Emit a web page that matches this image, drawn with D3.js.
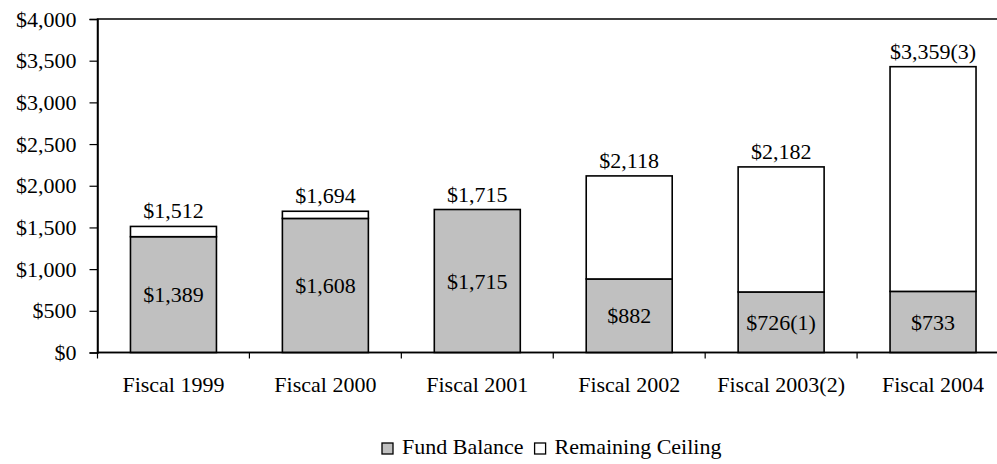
<!DOCTYPE html>
<html lang="en">

<head>
    <meta charset="UTF-8">
    <title>Fund Balance and Remaining Ceiling</title>
    <script src="https://d3js.org/d3.v7.min.js"></script>
    <style>
        body,
        html {
            margin: 0;
            background: #fff;
            overflow: hidden;
        }

        svg text {
            font-family: "Liberation Serif", "Times New Roman", serif;
            font-size: 22px;
            fill: #000;
        }
    </style>
</head>

<body>
    <div id="chart"></div>
    <script>
        // chart data
        var categories = ["Fiscal 1999", "Fiscal 2000", "Fiscal 2001", "Fiscal 2002", "Fiscal 2003(2)", "Fiscal 2004"];
        var fundBalance = [1389, 1608, 1715, 882, 726, 733];
        var remainingCeiling = [123, 86, 0, 1236, 1500, 2695];
        var fundLabels = ["$1,389", "$1,608", "$1,715", "$882", "$726(1)", "$733"];
        var totalLabels = ["$1,512", "$1,694", "$1,715", "$2,118", "$2,182", "$3,359(3)"];
        var yTicks = [0, 500, 1000, 1500, 2000, 2500, 3000, 3500, 4000];
        var seriesNames = ["Fund Balance", "Remaining Ceiling"];
        var seriesColors = ["#c0c0c0", "#ffffff"];

        var W = 997, H = 464;
        var plotL = 97.5, plotR = 1009, plotT = 19, plotB = 352.5;

        var svg = d3.select("#chart").append("svg")
            .attr("width", W)
            .attr("height", H);

        var x = d3.scaleBand()
            .domain(categories)
            .range([plotL, plotR])
            .paddingInner(0.434)
            .paddingOuter(0.217);

        var y = d3.scaleLinear()
            .domain([0, 4000])
            .range([plotB, plotT]);

        // plot frame
        svg.append("rect")
            .attr("x", plotL).attr("y", plotT)
            .attr("width", plotR - plotL).attr("height", plotB - plotT)
            .attr("fill", "none")
            .attr("stroke", "#000")
            .attr("stroke-width", 1.5);

        // stacked data
        var rows = categories.map(function (c, i) {
            return { cat: c, fund: fundBalance[i], rem: remainingCeiling[i] };
        });

        var g = svg.append("g");

        // fund balance (gray)
        g.selectAll(".fund").data(rows).enter().append("rect")
            .attr("x", function (d) { return x(d.cat); })
            .attr("y", function (d) { return y(d.fund); })
            .attr("width", x.bandwidth())
            .attr("height", function (d) { return y(0) - y(d.fund); })
            .attr("fill", seriesColors[0])
            .attr("stroke", "#000")
            .attr("stroke-width", 1.6);

        // remaining ceiling (white)
        g.selectAll(".rem").data(rows).enter().append("rect")
            .attr("x", function (d) { return x(d.cat); })
            .attr("y", function (d) { return y(d.fund + d.rem); })
            .attr("width", x.bandwidth())
            .attr("height", function (d) { return y(d.fund) - y(d.fund + d.rem); })
            .attr("fill", seriesColors[1])
            .attr("stroke", "#000")
            .attr("stroke-width", 1.6);

        // labels inside gray segment
        g.selectAll(".flab").data(rows).enter().append("text")
            .attr("x", function (d) { return x(d.cat) + x.bandwidth() / 2; })
            .attr("y", function (d) { return (y(0) + y(d.fund)) / 2; })
            .attr("dy", "0.35em")
            .attr("text-anchor", "middle")
            .text(function (d, i) { return fundLabels[i]; });

        // total labels above bars
        g.selectAll(".tlab").data(rows).enter().append("text")
            .attr("x", function (d) { return x(d.cat) + x.bandwidth() / 2; })
            .attr("y", function (d) { return y(d.fund + d.rem) - 8; })
            .attr("text-anchor", "middle")
            .text(function (d, i) { return totalLabels[i]; });

        // y axis
        var yAxis = svg.append("g")
            .attr("transform", "translate(" + plotL + ",0)")
            .call(d3.axisLeft(y).tickValues(yTicks).tickFormat(d3.format("$,")).tickSize(8).tickPadding(13));
        yAxis.select(".domain").attr("stroke-width", 1.5);
        yAxis.selectAll(".tick line").attr("stroke-width", 1.2);
        yAxis.selectAll("text").attr("font-size", 22).attr("font-family", "Liberation Serif");

        // x axis (ticks between categories)
        var xAxis = svg.append("g")
            .attr("transform", "translate(0," + plotB + ")");
        xAxis.append("line")
            .attr("x1", plotL).attr("x2", plotR)
            .attr("stroke", "#000").attr("stroke-width", 1.5);
        var bounds = categories.map(function (c) { return x(c) - x.step() * x.paddingInner() / 2; });
        bounds.push(plotR);
        xAxis.selectAll(".xt").data(bounds).enter().append("line")
            .attr("x1", function (d) { return d; })
            .attr("x2", function (d) { return d; })
            .attr("y1", 0).attr("y2", 6)
            .attr("stroke", "#000").attr("stroke-width", 1.2);
        xAxis.selectAll(".xl").data(categories).enter().append("text")
            .attr("x", function (d) { return x(d) + x.bandwidth() / 2; })
            .attr("y", 39)
            .attr("text-anchor", "middle")
            .text(function (d) { return d; });

        // legend
        var legend = svg.append("g").attr("transform", "translate(382,454)");
        var lx = 0;
        seriesNames.forEach(function (name, i) {
            legend.append("rect")
                .attr("x", lx).attr("y", -11)
                .attr("width", 11).attr("height", 11)
                .attr("fill", seriesColors[i])
                .attr("stroke", "#000").attr("stroke-width", 1.3);
            var t = legend.append("text")
                .attr("x", lx + 20).attr("y", 0)
                .text(name);
            lx += 20 + t.node().getComputedTextLength() + 11;
        });
    </script>
</body>

</html>
